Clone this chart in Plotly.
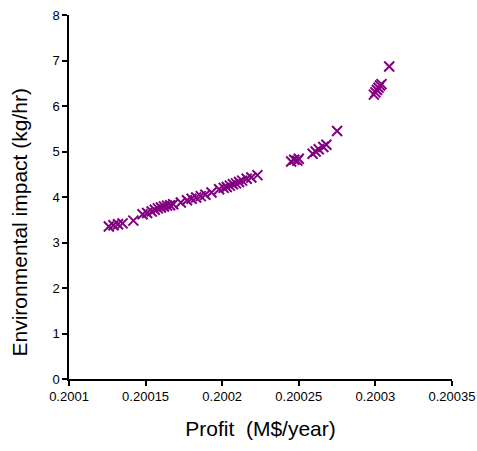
import plotly.graph_objects as go

# Profit offsets (units of 1e-5 M$/year above 0.2001) and environmental impact
profit_offset = [2.6, 2.9, 3.2, 3.5, 4.2,
                 4.8, 5.1, 5.4, 5.6, 5.8, 6.0, 6.2, 6.4, 6.6, 6.8,
                 7.3, 7.7, 8.0, 8.3, 8.6, 8.9, 9.3, 9.8, 10.1, 10.3,
                 10.5, 10.7, 10.9, 11.1, 11.3, 11.6, 11.9, 12.3,
                 14.5, 14.7, 14.9, 15.0, 15.9, 16.1, 16.3, 16.6, 16.8, 17.5,
                 19.9, 20.0, 20.1, 20.2, 20.3, 20.4, 20.9]
impact = [3.35, 3.38, 3.40, 3.42, 3.48,
          3.62, 3.65, 3.68, 3.72, 3.75, 3.77, 3.79, 3.81, 3.82, 3.84,
          3.88, 3.93, 3.96, 3.99, 4.02, 4.05, 4.10, 4.17, 4.20, 4.22,
          4.25, 4.28, 4.30, 4.33, 4.36, 4.40, 4.43, 4.48,
          4.78, 4.82, 4.80, 4.84, 4.95, 5.00, 5.05, 5.10, 5.15, 5.45,
          6.25, 6.30, 6.35, 6.40, 6.45, 6.48, 6.87]
profit = [0.2001 + v * 1e-5 for v in profit_offset]

x_tickvals = [0.2001, 0.20015, 0.2002, 0.20025, 0.2003, 0.20035]
x_ticktext = ["0.2001", "0.20015", "0.2002", "0.20025", "0.2003", "0.20035"]

fig = go.Figure(go.Scatter(
    x=profit, y=impact, mode="markers",
    marker=dict(symbol="x-thin", size=10, line=dict(width=2, color="#800080"), color="#800080"),
))

fig.update_layout(
    width=477, height=451,
    margin=dict(l=69, r=25, t=15, b=72, autoexpand=False),
    paper_bgcolor="white", plot_bgcolor="white",
    font=dict(family="Liberation Sans, Arial, sans-serif", color="black"),
    showlegend=False,
    annotations=[dict(
        text="Environmental impact (kg/hr)", textangle=-90,
        xref="paper", yref="paper", x=0, y=0.43, xanchor="center", yanchor="middle",
        xshift=-50, showarrow=False, font=dict(size=21),
    )],
)
fig.update_xaxes(
    range=[0.2001, 0.20035], tickvals=x_tickvals, ticktext=x_ticktext,
    showgrid=False, zeroline=False, showline=True, linecolor="black", linewidth=1.5,
    ticks="outside", ticklen=5, tickwidth=1.5, tickcolor="black",
    tickfont=dict(size=13), ticklabeloverflow="allow", automargin=False,
    title=dict(text="Profit  (M$/year)", font=dict(size=21), standoff=18),
)
fig.update_yaxes(
    range=[0, 8], dtick=1,
    showgrid=False, zeroline=False, showline=True, linecolor="black", linewidth=1.5,
    ticks="outside", ticklen=5, tickwidth=1.5, tickcolor="black",
    tickfont=dict(size=13), ticklabeloverflow="allow", automargin=False,
)

fig.write_html(
    "out.html",
    config={"displayModeBar": False},
    post_script="document.body.style.margin='0';document.documentElement.style.overflow='hidden';",
)
